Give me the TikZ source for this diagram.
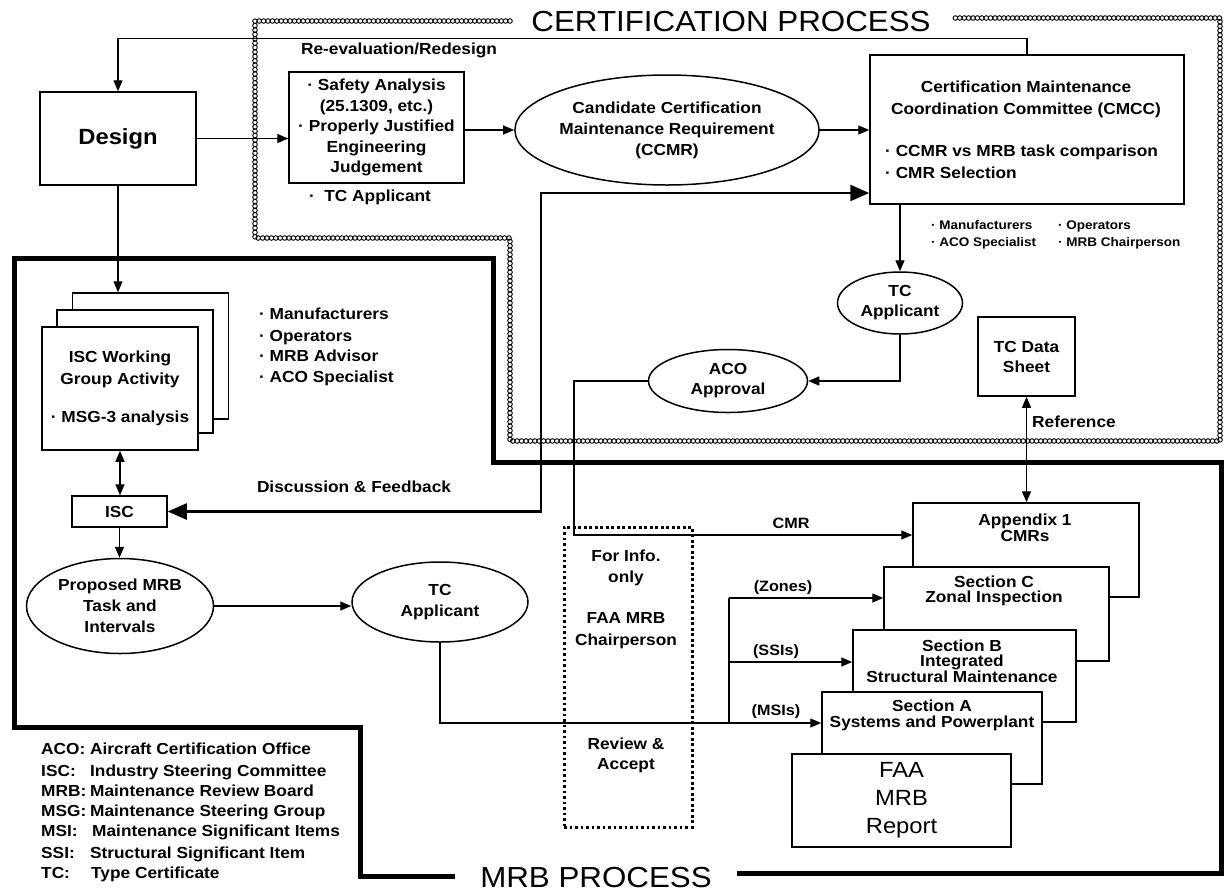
\documentclass[tikz,border=0pt]{standalone}
\usepackage{fontspec}
\setmainfont{Liberation Sans}[FakeStretch=1.08]
\usetikzlibrary{arrows.meta,shapes.geometric,decorations.markings}
\tikzset{
  txt/.style={font={\fontsize{16}{20.5}\selectfont\bfseries}, align=center, inner sep=0pt},
  sect/.style={font={\fontsize{16}{15.5}\selectfont\bfseries}, align=center, inner sep=0pt},
  lst/.style={font={\fontsize{16}{20.5}\selectfont\bfseries}, anchor=base west, inner sep=0pt},
  small/.style={font={\fontsize{12.5}{17}\selectfont\bfseries}, anchor=base west, inner sep=0pt},
  ttl/.style={font={\fontsize{29}{32}\selectfont}, inner sep=0pt},
  boxn/.style={draw, line width=1.5pt, fill=white, inner sep=0pt, align=center},
  elln/.style={draw, ellipse, line width=1.5pt, fill=white, inner sep=0pt, align=center,
               font={\fontsize{16}{21}\selectfont\bfseries}},
  conn/.style={line width=1.4pt},
  arr/.style={conn, -{Triangle[length=11pt,width=9pt]}},
  darr/.style={conn, {Triangle[length=11pt,width=9pt]}-{Triangle[length=11pt,width=9pt]}},
  bigarr/.style={line width=2.4pt, {Triangle[length=19pt,width=16pt]}-{Triangle[length=19pt,width=16pt]}},
  thickb/.style={line width=5pt},
  chk/.style={decoration={markings, mark=between positions 0 and 1 step 4.4pt with {\draw[line width=0.9pt] (0,0) circle (2.3pt);}}, decorate},
  dotbox/.style={draw, line width=3pt, dash pattern=on 2.6pt off 2.9pt, inner sep=0pt},
}
\begin{document}
\begin{tikzpicture}[x=1pt,y=-1pt]
\useasboundingbox (0,0) rectangle (1225,892);
\fill[white] (0,0) rectangle (1225,892);

% ---------- process boundaries ----------
\path[chk] (510,21) -- (255,21) -- (255,238) -- (510,238) -- (510,441) -- (1220,441) -- (1220,18) -- (955,18);
\node[ttl] (certtitle) at (731,22) {CERTIFICATION PROCESS};

\draw[thickb] (455,876) -- (360,876) -- (360,727) -- (14,727) -- (14,258) -- (493,258) -- (493,462) -- (1221,462) -- (1221,873) -- (737,873);
\node[ttl] (mrbtitle) at (596,877) {MRB PROCESS};

% ---------- certification part ----------
\node[boxn, minimum width=156pt, minimum height=93pt, font={\fontsize{22}{24}\selectfont\bfseries}] (design) at (118,138.5) {Design};
\node[txt] (reeval) at (399,50) {Re-evaluation/Redesign};
\node[boxn, minimum width=175pt, minimum height=111pt, font={\fontsize{16}{20.5}\selectfont\bfseries}] (safety) at (376.5,127.5)
  {· Safety Analysis\\(25.1309, etc.)\\· Properly Justified\\Engineering\\Judgement};
\node[txt] (tcapp0) at (370,197) {·\ \ TC Applicant};
\node[elln, minimum width=279pt, minimum height=110pt] (ccmr) at (667,130)
  {Candidate Certification\\Maintenance Requirement\\(CCMR)};
\node[boxn, minimum width=314pt, minimum height=149pt] (cmcc) at (1027,129.5) {};
\node[txt, font={\fontsize{16}{22}\selectfont\bfseries}] (cmcct) at (1026,99) {Certification Maintenance\\Coordination Committee (CMCC)};
\node[lst] (cmccb1) at (885,156) {· CCMR vs MRB task comparison};
\node[lst] (cmccb2) at (885,178) {· CMR Selection};
\node[small] (cm1) at (931,229.5) {· Manufacturers};
\node[small] (cm2) at (1058,229.5) {· Operators};
\node[small] (cm3) at (931,246.5) {· ACO Specialist};
\node[small] (cm4) at (1058,246.5) {· MRB Chairperson};
\node[elln, minimum width=125pt, minimum height=62pt, font={\fontsize{16}{20}\selectfont\bfseries}] (tc1) at (900,303) {TC\\Applicant};
\node[elln, minimum width=159pt, minimum height=63pt, font={\fontsize{16}{20}\selectfont\bfseries}] (aco) at (728,381) {ACO\\Approval};
\node[boxn, minimum width=97pt, minimum height=79pt, font={\fontsize{16}{20}\selectfont\bfseries}] (tcds) at (1026.5,356.5) {TC Data\\Sheet};
\node[lst] (refl) at (1032,427) {Reference};

% ---------- MRB part ----------
\node[boxn, minimum width=156pt, minimum height=126pt] (wgback) at (150.5,356) {};
\node[boxn, minimum width=156pt, minimum height=123pt] (wgmid) at (135,371.5) {};
\node[boxn, minimum width=156pt, minimum height=123pt] (wgfront) at (120,388.5) {};
\node[txt, font={\fontsize{16}{22}\selectfont\bfseries}] (wgt1) at (120,369) {ISC Working\\Group Activity};
\node[txt] (wgt2) at (120,418) {· MSG-3 analysis};
\node[lst] (wl1) at (259,319) {· Manufacturers};
\node[lst] (wl2) at (259,341) {· Operators};
\node[lst] (wl3) at (259,361) {· MRB Advisor};
\node[lst] (wl4) at (259,382) {· ACO Specialist};

\node[boxn, minimum width=95pt, minimum height=31pt, font={\fontsize{16}{20}\selectfont\bfseries}] (isc) at (119.5,511.5) {ISC};
\node[txt] (dfl) at (354,487) {Discussion \& Feedback};
\node[elln, minimum width=187pt, minimum height=95pt] (prop) at (120,606) {Proposed MRB\\Task and\\Intervals};
\node[elln, minimum width=176pt, minimum height=80pt] (tc2) at (440,602) {TC\\Applicant};

\node[dotbox, minimum width=128pt, minimum height=300pt] (info) at (628,677) {};
\node[txt, font={\fontsize{16}{21}\selectfont\bfseries}] (info1) at (626,567.5) {For Info.\\only};
\node[txt, font={\fontsize{16}{22}\selectfont\bfseries}] (info2) at (626,631) {FAA MRB\\Chairperson};
\node[txt, font={\fontsize{16}{20}\selectfont\bfseries}] (info3) at (626,755) {Review \&\\Accept};

\node[boxn, minimum width=226pt, minimum height=94pt] (app1) at (1026,550) {};
\node[sect] (app1t) at (1025,528) {Appendix 1\\CMRs};
\node[boxn, minimum width=225pt, minimum height=94pt] (secC) at (996.5,614) {};
\node[sect] (secCt) at (994,591) {Section C\\Zonal Inspection};
\node[boxn, minimum width=223pt, minimum height=92pt] (secB) at (964.5,676) {};
\node[sect] (secBt) at (962,661) {Section B\\Integrated\\Structural Maintenance};
\node[boxn, minimum width=220pt, minimum height=92pt] (secA) at (932,738) {};
\node[sect] (secAt) at (932,715.5) {Section A\\Systems and Powerplant};
\node[boxn, minimum width=219pt, minimum height=93pt, font={\fontsize{22}{28}\selectfont}] (faa) at (901.5,800.5) {FAA\\MRB\\Report};

\node[txt, font={\fontsize{15}{18}\selectfont\bfseries}] (cmrl) at (791,523) {CMR};
\node[txt, font={\fontsize{15}{18}\selectfont\bfseries}] (zonl) at (783,588) {(Zones)};
\node[txt, font={\fontsize{15}{18}\selectfont\bfseries}] (ssil) at (776,652) {(SSIs)};
\node[txt, font={\fontsize{15}{18}\selectfont\bfseries}] (msil) at (776,712) {(MSIs)};

% ---------- legend ----------
\node[lst] (lg1) at (41,754) {\makebox[49pt][l]{ACO:}Aircraft Certification Office};
\node[lst] (lg2) at (41,776) {\makebox[49pt][l]{ISC:}Industry Steering Committee};
\node[lst] (lg3) at (41,796) {\makebox[49pt][l]{MRB:}Maintenance Review Board};
\node[lst] (lg4) at (41,816) {\makebox[49pt][l]{MSG:}Maintenance Steering Group};
\node[lst] (lg5) at (41,836) {\makebox[51pt][l]{MSI:}Maintenance Significant Items};
\node[lst] (lg6) at (41,858) {\makebox[49pt][l]{SSI:}Structural Significant Item};
\node[lst] (lg7) at (41,878) {\makebox[50pt][l]{TC:}Type Certificate};

% ---------- connectors ----------
\draw[arr] (cmcc.north) -- ++(0,-16) -| (design.north);
\draw[arr] (design.east) -- (design.east -| safety.west);
\draw[arr] (safety.east |- ccmr.west) -- (ccmr.west);
\draw[arr] (ccmr.east) -- (ccmr.east -| cmcc.west);
\draw[arr] (tc1.north |- cmcc.south) -- (tc1.north);
\draw[arr] (tc1.south) |- (aco.east);
\coordinate (cmrc) at (574,535);
\draw[arr] (aco.west) -| (cmrc) -- (cmrc -| app1.west);
\draw[darr] (tcds.south) -- (tcds.south |- app1.north);
\coordinate (dfc) at (541,193);
\draw[bigarr] (isc.east) -| (dfc) -- (dfc -| cmcc.west);
\draw[arr] (design.south) -- (design.south |- wgback.north);
\draw[darr] (wgfront.south) -- (wgfront.south |- isc.north);
\draw[arr] (isc.south) -- (isc.south |- prop.north);
\draw[arr] (prop.east) -- (prop.east -| tc2.west);
\draw[arr] (tc2.south) |- ([yshift=15pt]secA.west);
\coordinate (brA) at (729,723);
\coordinate (brB) at (729,662);
\coordinate (brC) at (729,598);
\draw[conn] (brA) -- (brC);
\draw[arr] (brC) -- (brC -| secC.west);
\draw[arr] (brB) -- (brB -| secB.west);
\end{tikzpicture}
\end{document}
